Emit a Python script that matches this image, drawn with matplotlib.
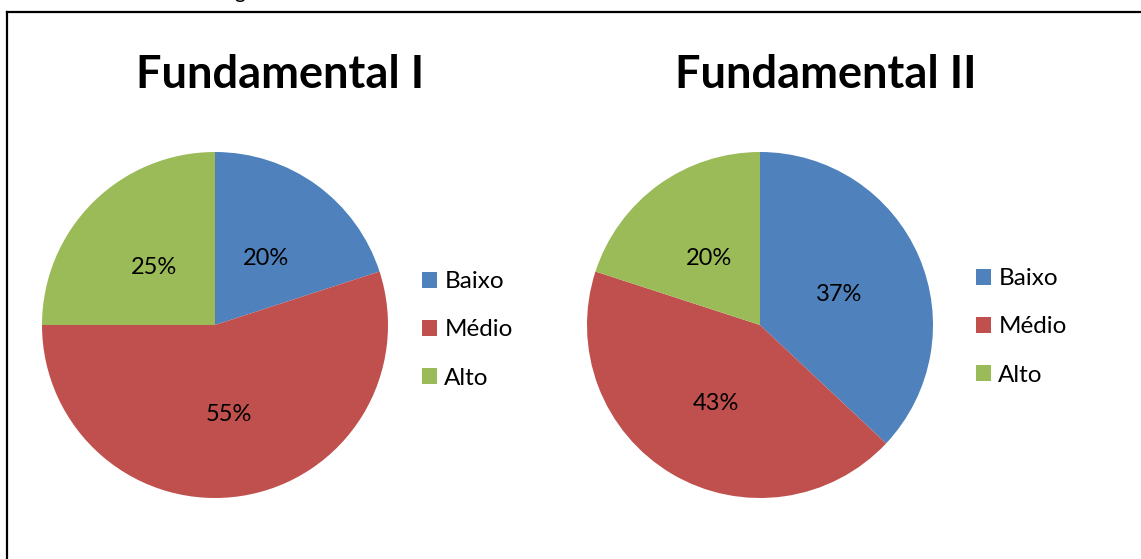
import matplotlib
matplotlib.use("Agg")
import matplotlib.pyplot as plt
from matplotlib.patches import Patch
from matplotlib.lines import Line2D

categories = ["Baixo", "Médio", "Alto"]
fund1_values = [20, 55, 25]
fund2_values = [37, 43, 20]
titles = ["Fundamental I", "Fundamental II"]
colors = ["#4F81BD", "#C0504D", "#9BBB59"]

W, H = 1141, 559
fig = plt.figure(figsize=(W / 100, H / 100), dpi=100)
fig.patch.set_facecolor("white")
plt.rcParams["font.family"] = ["Lato", "DejaVu Sans"]

def px_axes(cx, cy, r):
    return fig.add_axes([(cx - r) / W, (H - cy - r) / H, 2 * r / W, 2 * r / H])

# border
fig.add_artist(Line2D([7 / W, 7 / W], [0, 1 - 12 / H], color="black", lw=1.6, transform=fig.transFigure))
fig.add_artist(Line2D([7 / W, 1], [1 - 12 / H, 1 - 12 / H], color="black", lw=1.6, transform=fig.transFigure))
# clipped caption fragment (cut at the top edge, as in the reference)
fig.text(240 / W, 1 + 2 / H, "g", fontsize=15, ha="center", va="baseline", color="black")

specs = [
    (fund1_values, titles[0], 215, 325, 280, 75, 422, 330),
    (fund2_values, titles[1], 760, 325, 826, 75, 976, 327),
]
for vals, title, cx, cy, tx, ty, lx, ly in specs:
    ax = px_axes(cx, cy, 173)
    wedges, texts, autotexts = ax.pie(
        vals, colors=colors, startangle=90, counterclock=False,
        autopct=lambda p: f"{p:.0f}%", pctdistance=0.5,
        wedgeprops=dict(linewidth=0), textprops=dict(fontsize=17, color="black"),
    )
    for t in autotexts:
        x, y = t.get_position()
        t.set_position((x, y - 0.022))
    ax.set_xlim(-1, 1)
    ax.set_ylim(-1, 1)
    ax.set_axis_off()
    fig.text(tx / W, 1 - ty / H, title, fontsize=32.5, fontweight="bold", ha="center", va="center")
    handles = [Patch(facecolor=c, edgecolor="none") for c in colors]
    fig.legend(handles, categories, loc="center left",
               bbox_to_anchor=(lx / W, 1 - ly / H), frameon=False,
               fontsize=17.5, handlelength=0.62, handleheight=0.62,
               handletextpad=0.3, labelspacing=1.12, borderpad=0, borderaxespad=0)

fig.savefig("out.png", dpi=100)
